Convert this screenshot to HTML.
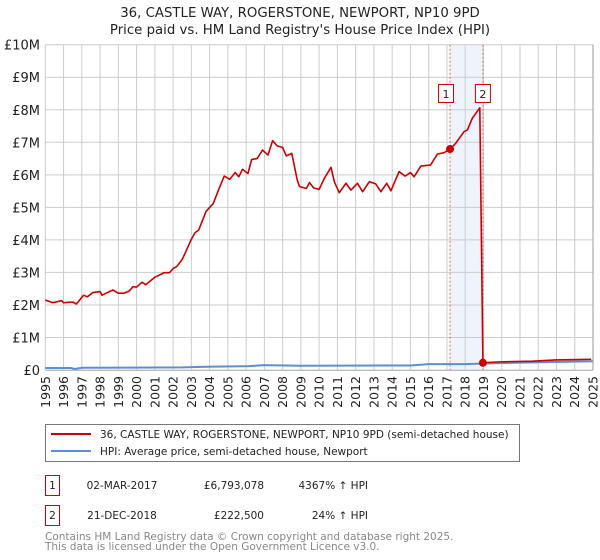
<!DOCTYPE html>
<html><head><meta charset="utf-8">
<style>
body{margin:0;background:#fff;font-family:"DejaVu Sans","Liberation Sans",sans-serif;}
svg{display:block}
</style></head>
<body>
<svg id="chart" width="600" height="560" xmlns="http://www.w3.org/2000/svg" font-family="DejaVu Sans, Liberation Sans, sans-serif">
<text x="300" y="17" text-anchor="middle" font-size="13.3" fill="#222">36, CASTLE WAY, ROGERSTONE, NEWPORT, NP10 9PD</text>
<text x="300" y="34" text-anchor="middle" font-size="13.3" fill="#222">Price paid vs. HM Land Registry's House Price Index (HPI)</text>
<g id="grid"></g>
<g id="marks"></g>
<g id="axes"></g>
<g>
<rect x="45.5" y="424.5" width="474" height="37" fill="#fff" stroke="#777"/>
<line x1="51" y1="434" x2="91" y2="434" stroke="#cc0000" stroke-width="2"/>
<text x="100" y="438" font-size="10.5" fill="#222">36, CASTLE WAY, ROGERSTONE, NEWPORT, NP10 9PD (semi-detached house)</text>
<line x1="51" y1="451" x2="91" y2="451" stroke="#5b8fd4" stroke-width="2"/>
<text x="100" y="455" font-size="10.5" fill="#222">HPI: Average price, semi-detached house, Newport</text>
</g>
<g font-size="10.5" fill="#222">
<rect x="45.5" y="475.5" width="14" height="20" fill="#fff" stroke="#cc0000"/>
<text x="52.5" y="489" text-anchor="middle">1</text>
<text x="122" y="489" text-anchor="middle">02-MAR-2017</text>
<text x="264" y="489" text-anchor="end">£6,793,078</text>
<text x="368" y="489" text-anchor="end">4367% ↑ HPI</text>
<rect x="45.5" y="505.5" width="14" height="20" fill="#fff" stroke="#cc0000"/>
<text x="52.5" y="519" text-anchor="middle">2</text>
<text x="122" y="519" text-anchor="middle">21-DEC-2018</text>
<text x="264" y="519" text-anchor="end">£222,500</text>
<text x="368" y="519" text-anchor="end">24% ↑ HPI</text>
</g>
<text x="45" y="540" font-size="10.5" fill="#888">Contains HM Land Registry data © Crown copyright and database right 2025.</text>
<text x="45" y="550" font-size="10.5" fill="#888">This data is licensed under the Open Government Licence v3.0.</text>
</svg>
<script>
const yearTicks=[1995,1996,1997,1998,1999,2000,2001,2002,2003,2004,2005,2006,2007,2008,2009,2010,2011,2012,2013,2014,2015,2016,2017,2018,2019,2020,2021,2022,2023,2024,2025];
const valueTicks=[0,1,2,3,4,5,6,7,8,9,10];
const valueTickLabels=["£0","£1M","£2M","£3M","£4M","£5M","£6M","£7M","£8M","£9M","£10M"];
const propYears=[1995,1995.4,1995.9,1996,1996.5,1996.7,1997.1,1997.3,1997.6,1998,1998.1,1998.7,1999,1999.3,1999.6,1999.8,2000,2000.3,2000.5,2001,2001.5,2001.8,2002,2002.2,2002.5,2002.7,2003,2003.2,2003.4,2003.8,2004.2,2004.5,2004.8,2005.1,2005.4,2005.6,2005.8,2006.1,2006.3,2006.6,2006.9,2007.2,2007.45,2007.7,2008,2008.2,2008.5,2008.8,2008.92,2009.3,2009.47,2009.7,2010,2010.28,2010.65,2010.83,2011.1,2011.47,2011.74,2012.1,2012.38,2012.75,2013.1,2013.38,2013.7,2013.93,2014.38,2014.71,2015,2015.2,2015.57,2016.1,2016.48,2016.84,2017.17,2017.48,2017.94,2018.12,2018.39,2018.8,2018.97,2019.85,2021.7,2022.95,2024.9];
const propValues=[2.15,2.07,2.13,2.07,2.09,2.03,2.3,2.25,2.38,2.41,2.3,2.46,2.36,2.36,2.43,2.56,2.55,2.7,2.62,2.85,2.99,2.99,3.12,3.18,3.4,3.64,4.02,4.22,4.3,4.87,5.12,5.55,5.96,5.86,6.07,5.94,6.17,6.04,6.47,6.5,6.76,6.61,7.05,6.89,6.84,6.58,6.66,5.84,5.64,5.58,5.76,5.6,5.55,5.89,6.23,5.79,5.45,5.74,5.53,5.74,5.48,5.79,5.72,5.48,5.74,5.51,6.1,5.96,6.07,5.94,6.27,6.3,6.64,6.68,6.79,6.97,7.33,7.38,7.74,8.06,0.2225,0.25,0.27,0.31,0.33];
const hpiYears=[1995,1996.4,1996.6,1997,2002.5,2003.8,2006.2,2007,2009,2015,2016,2018,2019,2022,2025];
const hpiValues=[0.06,0.06,0.03,0.07,0.08,0.1,0.12,0.15,0.13,0.14,0.18,0.18,0.2,0.24,0.27];
const saleYears=[2017.17,2018.97];
const saleValues=[6.793078,0.2225];
const saleLabels=["1","2"];

const X0=45.3,X1=593,Y0=370,Y1=44.7;
const xs=y=>X0+(y-1995)/30*(X1-X0);
const ys=v=>Y0-v/10*(Y0-Y1);
const NS="http://www.w3.org/2000/svg";
function mk(parent,tag,attrs){const e=document.createElementNS(NS,tag);for(const k in attrs)e.setAttribute(k,attrs[k]);document.getElementById(parent).appendChild(e);return e;}

const band=mk('grid','rect',{x:xs(saleYears[0]),y:Y1,width:xs(saleYears[1])-xs(saleYears[0]),height:Y0-Y1,fill:'#eef3fc'});


yearTicks.forEach(t=>{const l=mk('grid','line',{x1:xs(t),x2:xs(t),y1:Y1,y2:Y0,stroke:'#ccc','stroke-width':1});


const tx=mk('axes','text',{x:0,y:0,transform:`translate(${xs(t)+4.5},${Y0+6}) rotate(-90)`,'text-anchor':'end','font-size':12.5,fill:'#222'});tx.textContent=t;

});
valueTicks.forEach((v,i)=>{const l=mk('grid','line',{x1:X0,x2:X1,y1:ys(v),y2:ys(v),stroke:'#ccc','stroke-width':1});


const tx=mk('axes','text',{x:40,y:ys(v)+5,'text-anchor':'end','font-size':13,fill:'#222'});tx.textContent=valueTickLabels[i];

});
const ax=mk('axes','line',{x1:X0,x2:X1,y1:Y0+0.5,y2:Y0+0.5,stroke:'#bbb'});


const rb=mk('axes','line',{x1:X1,x2:X1,y1:Y1,y2:Y0,stroke:'#999'});



saleYears.forEach((y,i)=>{const l=mk('marks','line',{x1:xs(y),x2:xs(y),y1:Y1,y2:Y0,stroke:'#e06666','stroke-dasharray':'2,2','stroke-width':1});

});
const hp=mk('marks','polyline',{points:hpiYears.map((y,i)=>xs(y)+','+ys(hpiValues[i])).join(' '),fill:'none',stroke:'#5b8fd4','stroke-width':2});


const pp=mk('marks','polyline',{points:propYears.map((y,i)=>xs(y)+','+ys(propValues[i])).join(' '),fill:'none',stroke:'#cc0000','stroke-width':1.6,'stroke-linejoin':'round'});


saleYears.forEach((y,i)=>{const c=mk('marks','circle',{cx:xs(y),cy:ys(saleValues[i]),r:4,fill:'#cc0000'});


const b=mk('marks','rect',{x:xs(y)-7.5-(i===0?4:0),y:84.5,width:15,height:18,fill:'#fff',stroke:'#cc0000'});


const t=mk('marks','text',{x:xs(y)-(i===0?4:0),y:98,'text-anchor':'middle','font-size':11,fill:'#222'});t.textContent=saleLabels[i];

});
</script>
</body></html>
